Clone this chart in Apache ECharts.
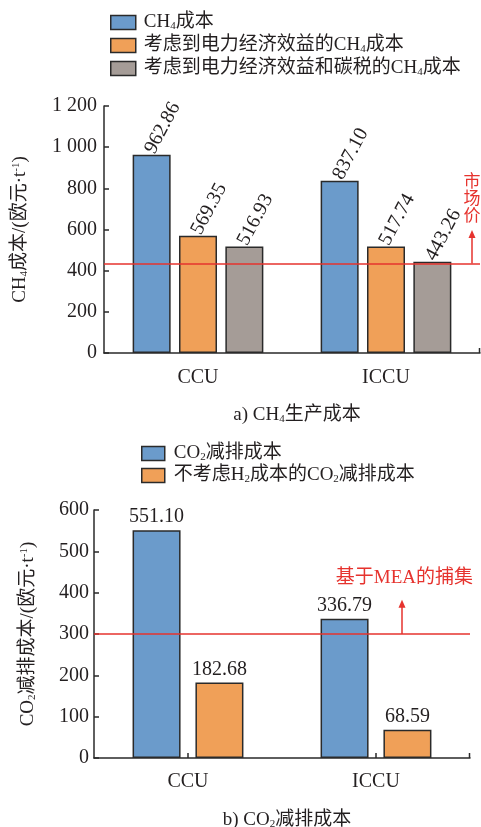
<!DOCTYPE html>
<html>
<head>
<meta charset="utf-8">
<script src="https://cdn.jsdelivr.net/npm/echarts@6/dist/echarts.min.js"></script>
<style>html,body{margin:0;padding:0;background:#fff}#c{width:481px;height:827px}</style>
</head>
<body>
<div id="c"></div>
<script>
// ---- data ----
const categories = ['CCU', 'ICCU'];
const ch4Cost = [962.86, 837.10];
const ch4CostElec = [569.35, 517.74];
const ch4CostElecTax = [516.93, 443.26];
const co2Cost = [551.10, 336.79];
const co2CostNoH2 = [182.68, 68.59];
const marketPrice = 435;
const meaCapture = 300;
const topAxis = { min: 0, max: 1200, interval: 200 };
const botAxis = { min: 0, max: 600, interval: 100 };
const topNames = ['CH4成本', '考虑到电力经济效益的CH4成本', '考虑到电力经济效益和碳税的CH4成本'];
const botNames = ['CO2减排成本', '不考虑H2成本的CO2减排成本'];

const FONT = "'Liberation Serif','Times New Roman','Noto Sans CJK SC',serif";
const INK = '#231f20';
const RED = '#e6332e';
const BLUE = '#6b9bcb';
const ORANGE = '#f0a058';
const GRAY = '#a59c97';
const EDGE = '#2a2a2a';

function subFmt(s) {
  return s.replace(/CH4/g, 'CH{sub|4}').replace(/CO2/g, 'CO{sub|2}').replace(/H2/g, 'H{sub|2}');
}
const richBase = {
  sub: { fontSize: 11, fontFamily: FONT, color: INK, verticalAlign: 'bottom', padding: [8, 0, 0, 0] },
  sup: { fontSize: 11, fontFamily: FONT, color: INK, verticalAlign: 'top', padding: [0, 0, 8, 0] }
};

function yFmt(v) {
  return v >= 1000 ? String(v).replace(/(\d)(\d{3})$/, '$1 $2') : String(v);
}

const axisLine = { show: true, lineStyle: { color: EDGE, width: 1.5 } };
const axisTick = { show: true, inside: true, length: 5, lineStyle: { color: EDGE, width: 1.5 } };

const chart = echarts.init(document.getElementById('c'));

function barSeries(name, data, color, xi, opts) {
  return Object.assign({
    name: name, type: 'bar', data: data, xAxisIndex: xi, yAxisIndex: xi,
    itemStyle: { color: color, borderColor: EDGE, borderWidth: 1.5 }
  }, opts);
}

const rotLabel = {
  show: true, position: 'top', rotate: 62, align: 'left', verticalAlign: 'middle',
  distance: 6, offset: [-4, 0],
  fontFamily: FONT, fontSize: 20, color: INK,
  formatter: p => p.value.toFixed(2)
};
const flatLabel = {
  show: true, position: 'top', distance: 3,
  fontFamily: FONT, fontSize: 20, color: INK,
  formatter: p => p.value.toFixed(2)
};

const legendText = { fontFamily: FONT, fontSize: 19, color: INK, rich: richBase, padding: [0, 0, 0, 3] };

const option = {
  animation: false,
  backgroundColor: '#fff',
  textStyle: { fontFamily: FONT },
  title: [
    { text: 'a) CH{sub|4}生产成本', left: 292, textAlign: 'center', top: 401,
      textStyle: { fontFamily: FONT, fontSize: 19, fontWeight: 'normal', color: INK, rich: richBase } },
    { text: 'b) CO{sub|2}减排成本', left: 282, textAlign: 'center', top: 806,
      textStyle: { fontFamily: FONT, fontSize: 19, fontWeight: 'normal', color: INK, rich: richBase } }
  ],
  legend: [
    { data: topNames, orient: 'vertical', left: 105, top: 8, itemWidth: 25, itemHeight: 14, itemGap: 4,
      icon: 'rect', itemStyle: { borderColor: EDGE, borderWidth: 1.5 },
      textStyle: legendText, formatter: subFmt },
    { data: botNames, orient: 'vertical', left: 136, top: 439, itemWidth: 23, itemHeight: 14, itemGap: 3,
      icon: 'rect', itemStyle: { borderColor: EDGE, borderWidth: 1.5 },
      textStyle: Object.assign({}, legendText, { padding: [0, 0, 0, 4] }), formatter: subFmt }
  ],
  grid: [
    { left: 104, right: 1, top: 106, bottom: 827 - 353, containLabel: false },
    { left: 94, right: 11, top: 510, bottom: 827 - 758, containLabel: false }
  ],
  xAxis: [0, 1].map(i => ({
    type: 'category', gridIndex: i, data: categories,
    axisLine: axisLine, axisTick: Object.assign({ alignWithLabel: true }, axisTick),
    axisLabel: { fontFamily: FONT, fontSize: 20, color: INK, margin: i === 0 ? 15 : 14 },
    splitLine: { show: false }
  })),
  yAxis: [
    Object.assign({ type: 'value', gridIndex: 0 }, topAxis, {
      axisLine: axisLine, axisTick: axisTick, splitLine: { show: false },
      axisLabel: { fontFamily: FONT, fontSize: 20, color: INK, margin: 7, formatter: yFmt },
      name: 'CH{sub|4}成本/(欧元·t{sup|-1})', nameLocation: 'middle', nameRotate: 90, nameGap: 74,
      nameTextStyle: { fontFamily: FONT, fontSize: 19, color: INK, rich: richBase }
    }),
    Object.assign({ type: 'value', gridIndex: 1 }, botAxis, {
      axisLine: axisLine, axisTick: axisTick, splitLine: { show: false },
      axisLabel: { fontFamily: FONT, fontSize: 20, color: INK, margin: 5, formatter: yFmt },
      name: 'CO{sub|2}减排成本/(欧元·t{sup|-1})', nameLocation: 'middle', nameRotate: 90, nameGap: 56,
      nameTextStyle: { fontFamily: FONT, fontSize: 19, color: INK, rich: richBase }
    })
  ],
  series: [
    barSeries(topNames[0], ch4Cost, BLUE, 0, { barWidth: 38, barGap: '22%', label: rotLabel,
      markLine: { silent: true, symbol: 'none', label: { show: false },
        lineStyle: { color: RED, width: 1.6, type: 'solid' }, data: [{ yAxis: marketPrice }] } }),
    barSeries(topNames[1], ch4CostElec, ORANGE, 0, { barWidth: 38, barGap: '22%', label: rotLabel }),
    barSeries(topNames[2], ch4CostElecTax, GRAY, 0, { barWidth: 38, barGap: '22%', label: rotLabel }),
    barSeries(botNames[0], co2Cost, BLUE, 1, { barWidth: 48, barGap: '31%', label: flatLabel,
      markLine: { silent: true, symbol: 'none', label: { show: false },
        lineStyle: { color: RED, width: 1.6, type: 'solid' }, data: [{ yAxis: meaCapture }] } }),
    barSeries(botNames[1], co2CostNoH2, ORANGE, 1, { barWidth: 48, barGap: '31%', label: flatLabel })
  ]
};
chart.setOption(option);

// ---- annotations (arrows + texts) positioned from the value scales ----
function arrow(x, y0, y1) {
  return [
    { type: 'line', shape: { x1: x, y1: y0, x2: x, y2: y1 + 6 }, style: { stroke: RED, lineWidth: 1.5 } },
    { type: 'polygon', shape: { points: [[x, y1], [x - 3.5, y1 + 8], [x + 3.5, y1 + 8]] }, style: { fill: RED } }
  ];
}
function endTick(gi) {
  const y0 = chart.convertToPixel({ yAxisIndex: gi }, 0);
  const rect = chart.getModel().getComponent('grid', gi).coordinateSystem.getRect();
  const x = rect.x + rect.width - 0.5;
  return { type: 'line', shape: { x1: x, y1: y0, x2: x, y2: y0 - 5 }, style: { stroke: EDGE, lineWidth: 1.5 } };
}
const yTopLine = chart.convertToPixel({ yAxisIndex: 0 }, marketPrice);
const yTopTip = chart.convertToPixel({ yAxisIndex: 0 }, 597);
const yBotLine = chart.convertToPixel({ yAxisIndex: 1 }, meaCapture);
const yBotTip = chart.convertToPixel({ yAxisIndex: 1 }, 383);
const gfx = [].concat(
  arrow(472, yTopLine, yTopTip),
  [{ type: 'text', x: 472, y: yTopTip - 7,
     style: { text: '市\n场\n价', fill: RED, font: "17px 'Noto Sans CJK SC'", lineHeight: 17,
              align: 'center', verticalAlign: 'bottom' } }],
  arrow(402, yBotLine, yBotTip),
  [{ type: 'text', x: 473, y: yBotTip - 22,
     style: { text: '基于MEA的捕集', fill: RED, font: "19px 'Liberation Serif','Noto Sans CJK SC'",
              align: 'right', verticalAlign: 'middle' } }],
  [endTick(0), endTick(1)]
);
chart.setOption({ graphic: gfx });
</script>
</body>
</html>
